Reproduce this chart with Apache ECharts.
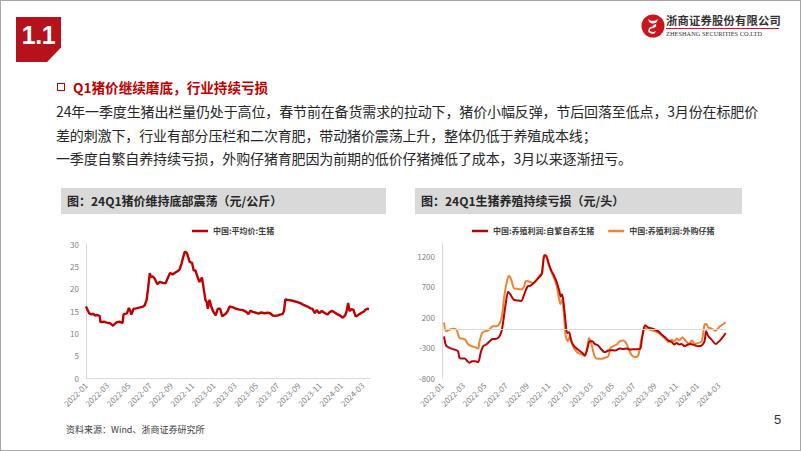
<!DOCTYPE html>
<html>
<head>
<meta charset="utf-8">
<script src="https://cdn.jsdelivr.net/npm/echarts@6/dist/echarts.min.js"></script>
<style>
  html,body{margin:0;padding:0;background:#fff;}
  body{width:802px;height:451px;position:relative;overflow:hidden;font-family:"Noto Sans CJK SC","Noto Sans",sans-serif;}
  .abs{position:absolute;white-space:nowrap;}
  #chart{position:absolute;left:0;top:0;width:802px;height:451px;z-index:1;}
  .frame{position:absolute;left:0;top:0;width:801px;height:451px;box-sizing:border-box;border:1px solid #a6a6a6;z-index:3;pointer-events:none;}
  .secbox{left:16px;top:17px;width:45px;height:45px;background:#B5121B;color:#fff;font-family:"Liberation Sans",Arial,sans-serif;font-weight:bold;font-size:25px;line-height:36px;text-align:center;clip-path:polygon(0 0,100% 0,100% 68%,69% 100%,0 100%);letter-spacing:-0.5px;z-index:2;}
  .body{font-size:14px;color:#262626;left:56px;line-height:20px;letter-spacing:-0.14px;z-index:2;}
  .ttl{height:26px;top:188px;background:#D9D9D9;font-size:12px;font-weight:bold;color:#262626;line-height:26px;box-sizing:border-box;padding-left:6px;z-index:2;}
</style>
</head>
<body>
<div class="frame"></div>
<div class="abs secbox">1.1</div>

<svg class="abs" style="left:641px;top:14px;z-index:2" width="24" height="24" viewBox="0 0 24 24">
  <circle cx="12" cy="12" r="11.5" fill="#C8161D"/>
  <path d="M7 5 Q12 9 17 5 L15.5 8.5 Q12 10.5 8.5 8.5 Z" fill="#fff"/>
  <path d="M9 10 Q12 12 15 10 Q16 13.5 12 14 Q8 14.5 9 17 Q12 19 15 17 L13.5 19.5 Q10 20.5 7.5 18 Q6.5 13.5 11 12.5 Q13.5 12 12.5 11.5 Z" fill="#fff"/>
</svg>
<div class="abs" style="left:666px;top:13px;font-size:11.3px;font-weight:bold;color:#333;line-height:14px;letter-spacing:0.2px;z-index:2;font-family:'Noto Sans CJK SC';">浙商证券股份有限公司</div>
<div class="abs" style="left:666px;top:28px;width:113px;height:1px;background:#C8161D;z-index:2;"></div>
<div class="abs" style="left:666px;top:29.5px;font-size:6.3px;color:#333;line-height:8px;z-index:2;font-family:'Liberation Serif',serif;letter-spacing:0.05px;">ZHESHANG SECURITIES CO.LTD</div>

<div class="abs" style="left:57px;top:83px;width:8px;height:8px;box-sizing:border-box;border:1.8px solid #C00000;z-index:2;"></div>
<div class="abs" style="left:73px;top:77px;font-size:13.6px;font-weight:bold;color:#C00000;line-height:20px;z-index:2;">Q1猪价继续磨底，行业持续亏损</div>
<div class="abs body" style="top:101px;">24年一季度生猪出栏量仍处于高位，春节前在备货需求的拉动下，猪价小幅反弹，节后回落至低点，3月份在标肥价</div>
<div class="abs body" style="top:125px;">差的刺激下，行业有部分压栏和二次育肥，带动猪价震荡上升，整体仍低于养殖成本线；</div>
<div class="abs body" style="top:148px;">一季度自繁自养持续亏损，外购仔猪育肥因为前期的低价仔猪摊低了成本，3月以来逐渐扭亏。</div>

<div class="abs ttl" style="left:61px;width:325px;">图：24Q1猪价维持底部震荡（元/公斤）</div>
<div class="abs ttl" style="left:415px;width:327px;">图：24Q1生猪养殖持续亏损（元/头）</div>

<div class="abs" style="left:66px;top:424px;font-size:9px;color:#404040;line-height:12px;z-index:2;">资料来源：Wind、浙商证券研究所</div>
<div class="abs" style="left:774px;top:412px;font-size:13px;color:#333;line-height:16px;z-index:2;font-family:'Liberation Sans',Arial,sans-serif;">5</div>

<div id="chart"></div>
<script>
// ---- tick labels ----
const xTickLabels = ['2022-01','2022-03','2022-05','2022-07','2022-09','2022-11','2023-01','2023-03','2023-05','2023-07','2023-09','2023-11','2024-01','2024-03'];

// ---- left chart: 中国:平均价:生猪 (元/公斤) ----
const priceName = '中国:平均价:生猪';
const priceDates = ['2022-01-01','2022-01-10','2022-01-17','2022-01-21','2022-01-27','2022-02-01','2022-02-05','2022-02-09','2022-02-11','2022-02-20','2022-02-27','2022-03-08','2022-03-13','2022-03-18','2022-03-24','2022-03-29','2022-04-06','2022-04-14','2022-04-17','2022-04-25','2022-04-27','2022-05-02','2022-05-06','2022-05-09','2022-05-16','2022-05-24','2022-06-03','2022-06-12','2022-06-17','2022-06-22','2022-06-26','2022-07-01','2022-07-04','2022-07-08','2022-07-15','2022-07-23','2022-07-30','2022-08-08','2022-08-16','2022-08-23','2022-08-29','2022-09-05','2022-09-11','2022-09-21','2022-09-25','2022-09-30','2022-10-05','2022-10-10','2022-10-16','2022-10-20','2022-10-24','2022-10-31','2022-11-05','2022-11-09','2022-11-14','2022-11-21','2022-11-28','2022-12-03','2022-12-08','2022-12-12','2022-12-15','2022-12-20','2022-12-25','2022-12-30','2023-01-07','2023-01-13','2023-01-20','2023-01-26','2023-02-02','2023-02-06','2023-02-10','2023-02-15','2023-02-24','2023-03-05','2023-03-14','2023-03-24','2023-04-03','2023-04-09','2023-04-15','2023-04-21','2023-05-01','2023-05-08','2023-05-15','2023-05-25','2023-06-04','2023-06-10','2023-06-18','2023-06-24','2023-07-02','2023-07-08','2023-07-16','2023-07-20','2023-07-24','2023-07-31','2023-08-14','2023-08-28','2023-09-07','2023-09-16','2023-09-26','2023-10-04','2023-10-10','2023-10-17','2023-10-22','2023-10-30','2023-11-06','2023-11-13','2023-11-22','2023-11-29','2023-12-06','2023-12-14','2023-12-20','2023-12-30','2024-01-04','2024-01-12','2024-01-16','2024-01-21','2024-01-25','2024-01-31','2024-02-05','2024-02-11','2024-02-16','2024-02-25','2024-03-05','2024-03-10','2024-03-15','2024-03-20'];
const priceValues = [16.0,14.5,14.2,14.4,14.0,14.1,14.0,13.9,12.5,12.6,12.4,12.3,12.0,11.7,12.2,12.5,12.6,12.3,14.3,14.4,14.6,15.7,15.0,14.2,15.5,15.6,15.8,16.0,16.3,17.5,20.0,23.5,22.6,22.8,22.3,21.0,21.5,21.3,21.2,22.5,23.5,23.2,23.5,24.0,24.3,25.5,27.0,28.3,28.0,27.0,26.0,25.8,24.0,24.2,23.0,21.5,22.5,20.0,17.5,17.0,15.5,17.5,16.0,15.0,14.0,15.5,15.5,13.8,14.2,14.5,15.0,16.0,15.8,15.5,15.3,15.2,14.8,14.3,15.1,14.8,14.6,14.4,14.7,14.5,14.6,14.5,14.0,13.9,14.0,14.2,14.3,15.0,17.6,17.5,17.3,17.0,16.7,16.3,16.0,15.6,15.5,14.5,15.2,14.5,15.0,14.6,14.2,14.8,15.0,14.6,14.3,13.9,13.5,14.0,14.8,16.8,15.0,15.4,15.3,13.8,14.0,14.5,14.9,15.3,15.5,15.4];

// ---- right chart: 养殖利润 (元/头) ----
const selfName = '中国:养殖利润:自繁自养生猪';
const selfDates = ['2022-01-07','2022-01-13','2022-01-23','2022-02-06','2022-02-15','2022-02-19','2022-02-26','2022-03-05','2022-03-13','2022-03-19','2022-03-27','2022-04-05','2022-04-13','2022-04-20','2022-04-27','2022-05-06','2022-05-16','2022-05-23','2022-06-02','2022-06-11','2022-06-19','2022-06-25','2022-07-01','2022-07-08','2022-07-15','2022-07-25','2022-08-06','2022-08-15','2022-08-23','2022-09-02','2022-09-11','2022-09-23','2022-10-02','2022-10-12','2022-10-16','2022-10-21','2022-10-26','2022-11-02','2022-11-10','2022-11-17','2022-11-24','2022-12-02','2022-12-06','2022-12-10','2022-12-16','2022-12-20','2022-12-25','2022-12-30','2023-01-06','2023-01-14','2023-01-25','2023-02-06','2023-02-13','2023-02-19','2023-02-26','2023-03-05','2023-03-12','2023-03-22','2023-04-01','2023-04-10','2023-04-20','2023-04-29','2023-05-09','2023-05-23','2023-06-02','2023-06-11','2023-06-21','2023-07-05','2023-07-20','2023-07-26','2023-08-04','2023-08-13','2023-08-28','2023-09-11','2023-09-21','2023-09-30','2023-10-10','2023-10-19','2023-10-27','2023-11-03','2023-11-10','2023-11-17','2023-11-25','2023-12-01','2023-12-11','2023-12-18','2023-12-25','2024-01-04','2024-01-14','2024-01-22','2024-01-27','2024-02-02','2024-02-11','2024-02-22','2024-03-05','2024-03-15','2024-03-22'];
const selfValues = [-115,-267,-305,-333,-360,-468,-480,-480,-523,-550,-523,-523,-540,-387,-278,-250,-197,-164,-159,-132,-34,184,428,618,564,483,472,466,564,700,716,781,836,901,1053,1216,1205,1080,955,879,782,629,537,575,347,129,-61,-50,-197,-278,-333,-387,-425,-333,-197,-197,-240,-267,-333,-376,-349,-343,-349,-316,-322,-316,-333,-327,-322,-142,64,31,4,-34,-88,-132,-186,-208,-251,-224,-251,-240,-278,-262,-240,-251,-262,-278,-267,-197,-34,-115,-170,-240,-186,-115,-61];

const buyName = '中国:养殖利润:外购仔猪';
const buyDates = ['2022-01-07','2022-01-13','2022-01-23','2022-02-02','2022-02-11','2022-02-19','2022-02-26','2022-03-07','2022-03-14','2022-03-24','2022-04-03','2022-04-13','2022-04-17','2022-04-24','2022-05-01','2022-05-11','2022-05-19','2022-05-25','2022-06-05','2022-06-14','2022-06-20','2022-06-26','2022-07-03','2022-07-10','2022-07-17','2022-07-25','2022-08-06','2022-08-15','2022-08-23','2022-08-29','2022-09-09','2022-09-18','2022-09-28','2022-10-07','2022-10-14','2022-10-19','2022-10-26','2022-11-02','2022-11-10','2022-11-17','2022-11-24','2022-11-30','2022-12-05','2022-12-10','2022-12-16','2022-12-20','2022-12-27','2023-01-02','2023-01-09','2023-01-16','2023-01-25','2023-02-06','2023-02-13','2023-02-20','2023-02-24','2023-03-03','2023-03-10','2023-03-17','2023-04-01','2023-04-10','2023-04-20','2023-04-26','2023-05-04','2023-05-14','2023-05-23','2023-06-02','2023-06-10','2023-06-16','2023-06-26','2023-07-05','2023-07-15','2023-07-23','2023-07-29','2023-08-04','2023-08-18','2023-09-02','2023-09-16','2023-09-30','2023-10-10','2023-10-19','2023-10-27','2023-11-03','2023-11-10','2023-11-19','2023-11-29','2023-12-08','2023-12-16','2023-12-25','2024-01-04','2024-01-14','2024-01-22','2024-01-27','2024-02-02','2024-02-11','2024-02-22','2024-03-05','2024-03-15','2024-03-22'];
const buyValues = [113,-34,-7,10,-7,-142,-153,-170,-240,-278,-289,-316,-197,-61,-34,-23,21,48,48,102,211,510,754,879,809,673,662,657,700,792,781,754,809,890,917,1216,1189,1053,934,836,727,537,412,483,211,-88,-197,-115,-251,-333,-387,-414,-441,-278,-142,-251,-414,-480,-485,-469,-441,-305,-278,-251,-197,-186,-224,-305,-425,-457,-425,-197,-61,21,-7,-34,-77,-153,-208,-170,-197,-153,-186,-132,-197,-240,-186,-240,-224,-197,75,86,31,10,-23,48,86,113];

// convert a date to months since 2022-01
function toMonth(s){
  const p = s.split('-').map(Number);
  const dim = new Date(p[0], p[1], 0).getDate();
  return (p[0]-2022)*12 + (p[1]-1) + (p[2]-1)/dim;
}
function pairs(dates, vals){ return dates.map((d,i)=>[toMonth(d), vals[i]]); }

const FONT = '"Noto Sans CJK SC", "Noto Sans", sans-serif';
const labelGray = '#7F7F7F';
const axisGray = '#D9D9D9';
const XMAX = 26.7;

function xAxisCfg(gridIndex, showLine){
  return {
    type:'value', gridIndex, min:0, max:XMAX, interval:2,
    splitLine:{show:false}, axisTick:{show:false},
    axisLine:{show:showLine, onZero:false, lineStyle:{color:axisGray, width:1}},
    axisLabel:{
      rotate:45, fontSize:8, color:labelGray, margin:6, fontFamily:FONT,
      showMaxLabel:false, hideOverlap:false,
      formatter:(v)=>{ const i=Math.round(v/2); return (Math.abs(v-i*2)<1e-6 && xTickLabels[i]) ? xTickLabels[i] : ''; }
    }
  };
}
function yAxisCfg(gridIndex, min, max, interval){
  return {
    type:'value', gridIndex, min, max, interval,
    splitLine:{show:false}, axisTick:{show:false},
    axisLine:{show:true, lineStyle:{color:axisGray, width:1}},
    axisLabel:{fontSize:8, color:labelGray, margin:7, fontFamily:FONT, showMaxLabel: max===30, formatter:(v)=>String(v)}
  };
}

const chart = echarts.init(document.getElementById('chart'), null, {renderer:'svg'});
chart.setOption({
  animation:false,
  textStyle:{fontFamily:FONT},
  grid:[
    {left:86, top:244, width:284, height:134, containLabel:false},
    {left:442, top:244, width:284, height:134, containLabel:false}
  ],
  legend:[
    {data:[priceName], left:187, top:222, icon:'rect', itemWidth:16, itemHeight:2.5,
     textStyle:{fontSize:8, color:'#404040', fontWeight:'bold', fontFamily:FONT}},
    {data:[selfName, buyName], left:467, top:222, icon:'rect', itemWidth:16, itemHeight:2.5, itemGap:14,
     textStyle:{fontSize:8, color:'#404040', fontWeight:'bold', fontFamily:FONT}}
  ],
  xAxis:[ xAxisCfg(0, true), xAxisCfg(1, false) ],
  yAxis:[ yAxisCfg(0, 0, 30, 5), yAxisCfg(1, -800, 1400, 500) ],
  series:[
    {name:priceName, type:'line', xAxisIndex:0, yAxisIndex:0, data:pairs(priceDates, priceValues),
     showSymbol:false, symbol:'none', color:'#C00000', lineStyle:{width:2.4, color:'#C00000'}},
    {name:selfName, type:'line', xAxisIndex:1, yAxisIndex:1, data:pairs(selfDates, selfValues),
     showSymbol:false, symbol:'none', smooth:0.3, color:'#C00000', lineStyle:{width:2, color:'#C00000'}, z:3,
     markLine:{silent:true, symbol:'none', label:{show:false}, animation:false,
       lineStyle:{color:axisGray, type:'solid', width:1}, data:[{yAxis:0}]}},
    {name:buyName, type:'line', xAxisIndex:1, yAxisIndex:1, data:pairs(buyDates, buyValues),
     showSymbol:false, symbol:'none', smooth:0.3, color:'#EE8431', lineStyle:{width:2, color:'#EE8431'}, z:2}
  ]
});
</script>
</body>
</html>
